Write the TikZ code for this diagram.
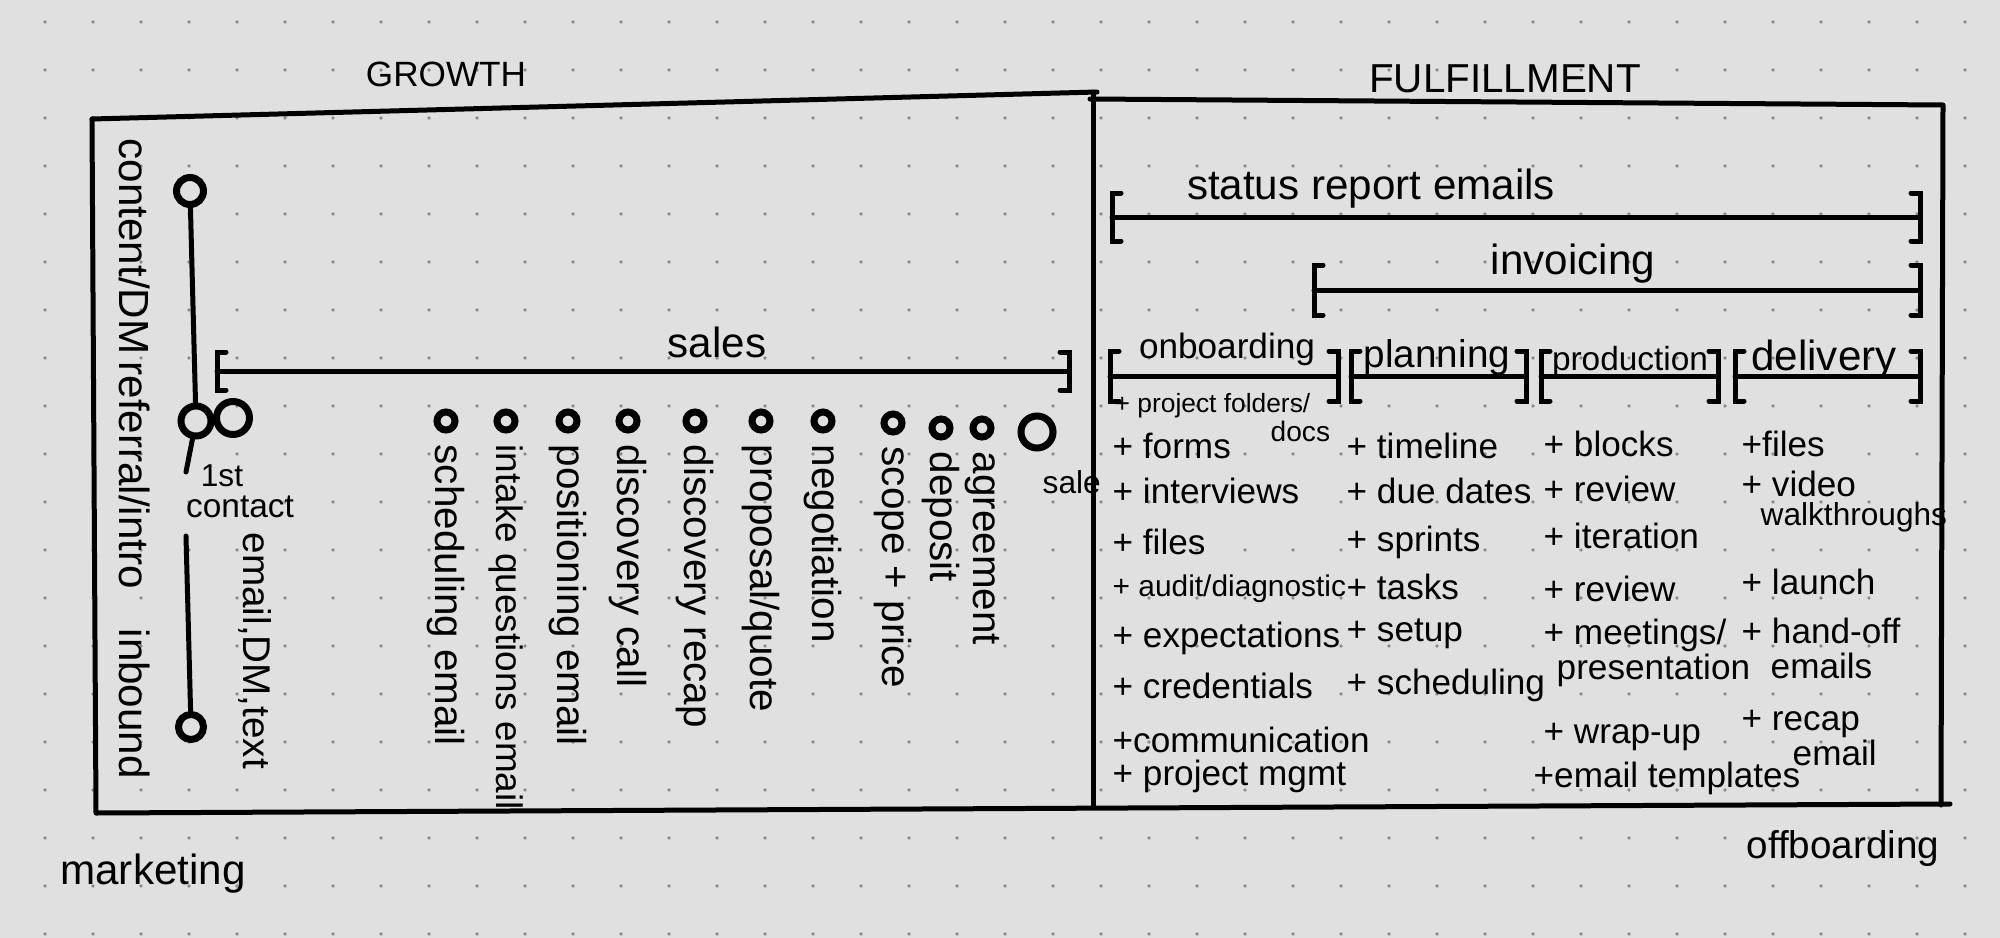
\documentclass[tikz,border=0pt]{standalone}
\usepackage{fontspec}
\setmainfont{Liberation Sans}
\usetikzlibrary{positioning}
\def\spanbar(#1:#2:#3:#4){%
  \draw[line width=0.5mm, line cap=round] (#1+0.09,#3+#4) -- (#1,#3+#4) -- (#1,#3-#4) -- (#1+0.09,#3-#4);
  \draw[line width=0.5mm, line cap=round] (#1,#3) -- (#2,#3);
  \draw[line width=0.5mm, line cap=round] (#2-0.09,#3+#4) -- (#2,#3+#4) -- (#2,#3-#4) -- (#2-0.09,#3-#4);}

\begin{document}
\begin{tikzpicture}[
    pen/.style={line width=0.5mm, line cap=round, line join=round},
    stop/.style={circle, draw, line width=0.7mm, minimum size=0.18cm, inner sep=0pt},
    vtext/.style={rotate=-90, anchor=west, inner sep=0pt, font=\fontsize{11.5}{13}\selectfont},
    item/.style={anchor=west, inner sep=0pt, font=\fontsize{10}{12}\selectfont},
    head/.style={inner sep=0pt, font=\fontsize{12}{14}\selectfont}
  ]
		%%%%% START %%%%%
		
		\fill[black!12] (0,0) rectangle (20,-9.38);
		\useasboundingbox (0,0) rectangle (20,-9.38);
		\foreach \i in {0,...,41} \foreach \j in {0,...,19} \fill[black!45] (0.45+\i*0.48,-0.22-\j*0.48) circle (0.018);
		
		% frame
		\draw[pen] (0.92,-1.19) -- (10.97,-0.92);
		\draw[pen] (10.93,-0.92) -- (10.93,-8.07);
		\draw[pen] (10.90,-0.99) -- (19.43,-1.05) -- (19.41,-8.05);
		\draw[pen] (0.92,-1.19) -- (0.96,-8.13) -- (19.50,-8.04);
		
		\node[head, font=\fontsize{10}{12}\selectfont] (growth) at (4.46,-0.74) {GROWTH};
		\node[head, font=\fontsize{11.5}{13}\selectfont] (fulfil) at (15.05,-0.79) {FULFILLMENT};
		\node[head] (market) at (1.53,-8.74) {marketing};
		\node[head, font=\fontsize{11}{13}\selectfont] (offboard) at (18.43,-8.48) {offboarding};
		
		% marketing
		\node[vtext, font=\fontsize{12}{14}\selectfont] (cdm) at (1.35,-1.38) {content/DM};
		\node[vtext, font=\fontsize{12}{14}\selectfont] (refintro) at (1.35,-3.61) {referral/intro};
		\node[vtext, font=\fontsize{12}{14}\selectfont] (inbound) at (1.35,-6.28) {inbound};
		
		\node[stop, minimum size=0.27cm] (source) at (1.90,-1.91) {};
		\node[stop, minimum size=0.30cm] (first) at (1.96,-4.21) {};
		\node[stop, minimum size=0.33cm] (firstb) at (2.33,-4.18) {};
		\node[stop, minimum size=0.25cm] (inb) at (1.91,-7.27) {};
		\coordinate (tail) at (1.86,-4.72);
		\coordinate (gap) at (1.86,-5.36);
		\draw[pen] (source) -- (first);
		\draw[pen] (first) -- (tail);
		\draw[pen] (gap) -- (inb);
		
		\node[inner sep=0pt, font=\fontsize{9}{11}\selectfont] (fst) at (2.22,-4.76) {1st};
		\node[inner sep=0pt, font=\fontsize{9.5}{11}\selectfont] (contact) at (2.40,-5.07) {contact};
		\node[vtext, font=\fontsize{11}{13}\selectfont] (channels) at (2.55,-5.32) {email,DM,text};
		
		% sales
		\spanbar(2.17:10.69:-3.71:0.19)
		\node[head] (sales) at (7.17,-3.42) {sales};
		
		\node[stop] (s1) at (4.46,-4.21) {};
		\node[vtext] (t1) at ([yshift=-3pt]s1.south) {scheduling email};
		\node[stop] (s2) at (5.06,-4.21) {};
		\node[vtext, font=\fontsize{10.5}{12}\selectfont] (t2) at ([yshift=-3pt]s2.south) {intake questions email};
		\node[stop] (s3) at (5.68,-4.21) {};
		\node[vtext] (t3) at ([yshift=-3pt]s3.south) {positioning email};
		\node[stop] (s4) at (6.28,-4.21) {};
		\node[vtext] (t4) at ([yshift=-3pt]s4.south) {discovery call};
		\node[stop] (s5) at (6.95,-4.21) {};
		\node[vtext] (t5) at ([yshift=-3pt]s5.south) {discovery recap};
		\node[stop] (s6) at (7.61,-4.21) {};
		\node[vtext] (t6) at ([yshift=-3pt]s6.south) {proposal/quote};
		\node[stop] (s7) at (8.23,-4.21) {};
		\node[vtext] (t7) at ([yshift=-3pt]s7.south) {negotiation};
		\node[stop] (s8) at (8.93,-4.23) {};
		\node[vtext] (t8) at ([yshift=-3pt]s8.south) {scope + price};
		\node[stop] (s9) at (9.41,-4.28) {};
		\node[vtext] (t9) at ([yshift=-3pt]s9.south) {deposit};
		\node[stop] (s10) at (9.82,-4.28) {};
		\node[vtext] (t10) at ([yshift=-3pt]s10.south) {agreement};
		\node[stop, minimum size=0.32cm] (sale) at (10.37,-4.32) {};
		\node[item, font=\fontsize{9}{11}\selectfont] (saletxt) at (10.42,-4.82) {sale};
		
		% fulfillment
		\spanbar(11.12:19.20:-2.17:0.24)
		\node[head] (status) at (13.71,-1.89) {status report emails};
		\spanbar(13.14:19.20:-2.90:0.25)
		\node[head] (invoice) at (15.73,-2.64) {invoicing};
		
		\spanbar(11.10:13.38:-3.76:0.25)
		\spanbar(13.51:15.26:-3.76:0.25)
		\spanbar(15.41:17.18:-3.76:0.25)
		\spanbar(17.35:19.20:-3.76:0.25)
		\node[head, font=\fontsize{10}{12}\selectfont] (onb) at (12.27,-3.49) {onboarding};
		\node[head, font=\fontsize{11}{13}\selectfont] (plan) at (14.37,-3.58) {planning};
		\node[head, font=\fontsize{9.5}{11}\selectfont] (prod) at (16.30,-3.62) {production};
		\node[head] (deliv) at (18.24,-3.60) {delivery};
		
		\node[item, font=\fontsize{7.5}{9}\selectfont] (o1) at (11.14,-4.06) {+ project folders/};
		\node[item, font=\fontsize{8}{9}\selectfont] (o1b) at (12.70,-4.31) {docs};
		\node[item] (o2) at (11.12,-4.46) {+ forms};
		\node[item] (o3) at (11.12,-4.91) {+ interviews};
		\node[item] (o4) at (11.12,-5.42) {+ files};
		\node[item, font=\fontsize{8.5}{10}\selectfont] (o5) at (11.12,-5.89) {+ audit/diagnostic};
		\node[item] (o6) at (11.12,-6.38) {+ expectations};
		\node[item] (o7) at (11.12,-6.86) {+ credentials};
		\node[item] (o8) at (11.12,-7.40) {+communication};
		\node[item] (o9) at (11.12,-7.76) {+ project mgmt};
		
		\node[item] (p1) at (13.46,-4.46) {+ timeline};
		\node[item] (p2) at (13.46,-4.91) {+ due dates};
		\node[item] (p3) at (13.46,-5.42) {+ sprints};
		\node[item] (p4) at (13.46,-5.87) {+ tasks};
		\node[item] (p5) at (13.46,-6.34) {+ setup};
		\node[item] (p6) at (13.46,-6.85) {+ scheduling};
		
		\node[item] (r1) at (15.43,-4.44) {+ blocks};
		\node[item] (r2) at (15.43,-4.89) {+ review};
		\node[item] (r3) at (15.43,-5.36) {+ iteration};
		\node[item] (r4) at (15.43,-5.89) {+ review};
		\node[item] (r5) at (15.43,-6.35) {+ meetings/};
		\node[item] (r5b) at (15.56,-6.70) {presentation};
		\node[item] (r6) at (15.43,-7.37) {+ wrap-up};
		\node[item] (r7) at (15.33,-7.78) {+email templates};
		
		\node[item] (d1) at (17.41,-4.44) {+files};
		\node[item] (d2) at (17.41,-4.84) {+ video};
		\node[item, font=\fontsize{9}{11}\selectfont] (d2b) at (17.60,-5.17) {walkthroughs};
		\node[item] (d3) at (17.41,-5.82) {+ launch};
		\node[item] (d4) at (17.41,-6.31) {+ hand-off};
		\node[item] (d4b) at (17.70,-6.66) {emails};
		\node[item] (d5) at (17.41,-7.24) {+ recap};
		\node[item] (d5b) at (17.92,-7.53) {email};
		
		%%%%% END %%%%%
\end{tikzpicture}
\end{document}
